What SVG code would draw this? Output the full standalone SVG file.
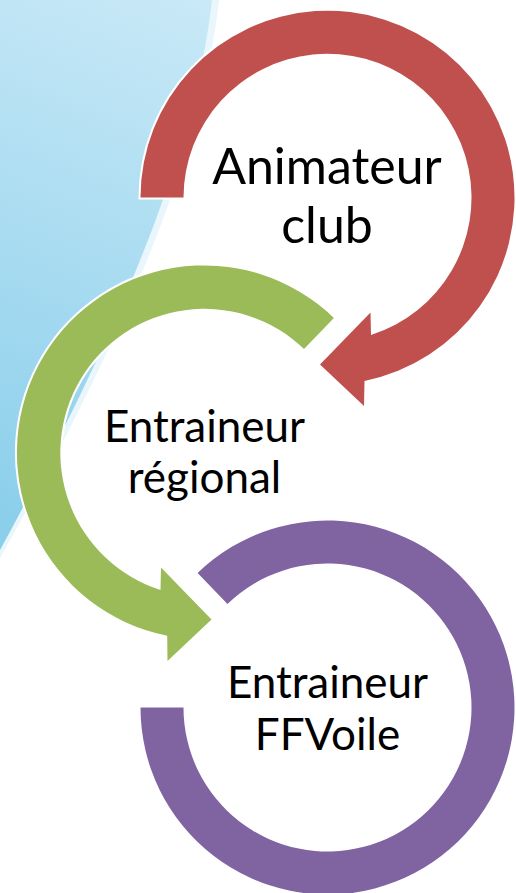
<svg xmlns="http://www.w3.org/2000/svg" width="516" height="893" viewBox="0 0 516 893">
  <defs>
    <linearGradient id="sky" gradientUnits="userSpaceOnUse" x1="210" y1="0" x2="0" y2="520">
      <stop offset="0" stop-color="#c9e9f7"/>
      <stop offset="1" stop-color="#8bcfeb"/>
    </linearGradient>
  </defs>
  <style>
    .ring { stroke: #ffffff; stroke-width: 4; stroke-linejoin: miter; paint-order: stroke; }
    .red { fill: #c0504d; }
    .green { fill: #9bbb59; }
    .purple { fill: #8064a2; }
    .lbl { font-family: Lato, "Open Sans", "Liberation Sans", sans-serif; fill: #000000; text-anchor: middle; }
    .big { font-size: 50px; }
    .mid { font-size: 44px; }
  </style>
  <rect x="0" y="0" width="516" height="893" fill="#ffffff"/>
  <g id="background">
    <path d="M0,0 L219,0 C202,150 127,333 0,558 Z" fill="#e9f6fb"/>
    <path d="M0,0 L212,0 C195,150 120,330 0,550 Z" fill="url(#sky)"/>
  </g>
  <g id="node-animateur-club">
    <path class="ring red" d="M140.5,197.5 A187,187 0 1 1 364.5,381 L364,406 L320,364.5 L370.5,312.5 L371,335 A144,144 0 1 0 183.5,197.5 Z"/>
    <text class="lbl big" x="327" y="184">Animateur</text>
    <text class="lbl big" x="327" y="243">club</text>
  </g>
  <g id="node-entraineur-regional">
    <path class="ring green" d="M333.9,318 A187,187 0 1 0 167.2,635.8 L167.5,661 L211.5,619.5 L161,567.5 L160.5,590 A144,144 0 1 1 304,348.9 Z"/>
    <text class="lbl mid" x="204.5" y="441.5">Entraineur</text>
    <text class="lbl mid" x="204.5" y="493">régional</text>
  </g>
  <g id="node-entraineur-ffvoile">
    <path class="ring purple" d="M140.5,707.5 A187,187 0 1 0 197.6,573 L227.5,603.9 A144,144 0 1 1 183.5,707.5 Z"/>
    <text class="lbl mid" x="327.5" y="698">Entraineur</text>
    <text class="lbl mid" x="327.5" y="750">FFVoile</text>
  </g>
</svg>
